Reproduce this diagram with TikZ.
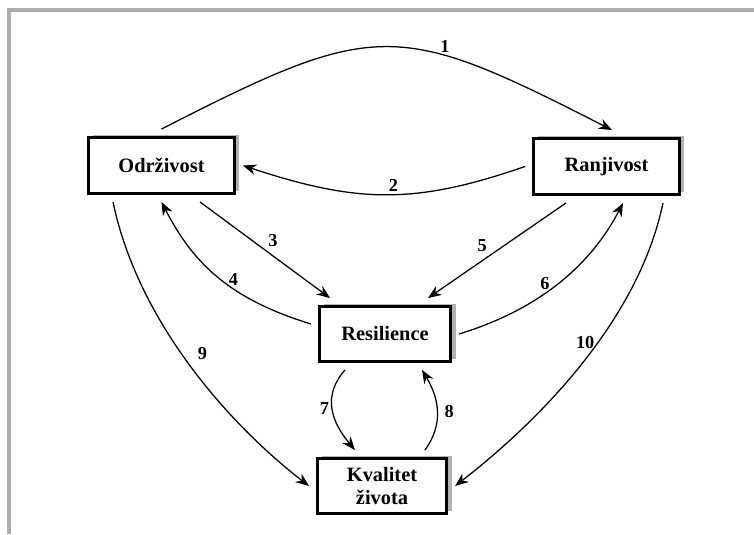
\documentclass[tikz,border=0pt]{standalone}
\usepackage{fontspec}
\setmainfont{Liberation Serif}
\usetikzlibrary{arrows.meta,shadows}
\tikzstyle{box} = [draw, rectangle, line width=2.1pt, fill=white, minimum height=1.4cm, outer sep=6pt, align=center, font=\bfseries\fontsize{14.5}{16.4}\selectfont, drop shadow={shadow xshift=3.5pt, shadow yshift=1.5pt, fill=gray!60, opacity=1}]
\tikzstyle{link} = [line width=0.9pt, ->, >={Stealth[length=9.5pt,width=7.5pt]}]
\tikzstyle{num} = [font=\bfseries\fontsize{13}{15}\selectfont, inner sep=2pt]

\begin{document}
\begin{tikzpicture}[x=0.025cm, y=-0.025cm]
    \useasboundingbox (0,0) rectangle (754,534);
    % frame
    \draw [gray!65, line width=0.1cm] (9,534) -- (9,10) -- (754,10);

    % boxes
    \node[box, minimum width=3.65cm] (odr) at (161.5,165.5) {Održivost};
    \node[box, minimum width=3.65cm] (ran) at (606.5,166.5) {Ranjivost};
    \node[box, minimum width=3.28cm, minimum height=1.375cm] (res) at (385,334) {Resilience};
    \node[box, minimum width=3.23cm, minimum height=1.375cm] (kva) at (382,486) {Kvalitet\\života};

    % top pair
    \draw [link] (odr.north) .. controls +(215,-110) and +(-215,-110) .. (ran.north -| 612,0)
        node[num, pos=0.66, above] (n1) {1};
    \draw [link] (ran.west) .. controls +(-110,38) and +(115,38) .. (odr.east)
        node[num, pos=0.47, above] (n2) {2};

    % to and from resilience
    \draw [link] (odr.south -| 200,0) -- (res.north -| 330,0)
        node[num, pos=0.5, above right] (n3) {3};
    \draw [link] (res.west |- 0,324) .. controls +(-85,-26) and +(30,58) .. (odr.south)
        node[num, pos=0.38, above] (n4) {4};
    \draw [link] (ran.south -| 566,0) -- (res.north -| 428,0)
        node[num, pos=0.55, above left] (n5) {5};
    \draw [link] (res.east) .. controls +(85,-26) and +(-30,58) .. (ran.south -| 623,0)
        node[num, pos=0.4, above] (n6) {6};

    % resilience and quality of life
    \draw [link] (res.south -| 345,0) .. controls +(-22,25) and +(-25,-30) .. (kva.north -| 355,0)
        node[num, pos=0.5, left] (n7) {7};
    \draw [link] (kva.north -| 425,0) .. controls +(18,-25) and +(18,30) .. (res.south -| 422,0)
        node[num, pos=0.5, right=3pt] (n8) {8};

    % long arcs
    \draw [link] (odr.south -| 113,0) .. controls +(25,120) and +(-80,-62) .. (kva.west)
        node[num, pos=0.46, right=9pt] (n9) {9};
    \draw [link] (ran.south -| 663,0) .. controls +(-25,120) and +(80,-62) .. (kva.east)
        node[num, pos=0.42, left] (n10) {10};

\end{tikzpicture}
\end{document}
